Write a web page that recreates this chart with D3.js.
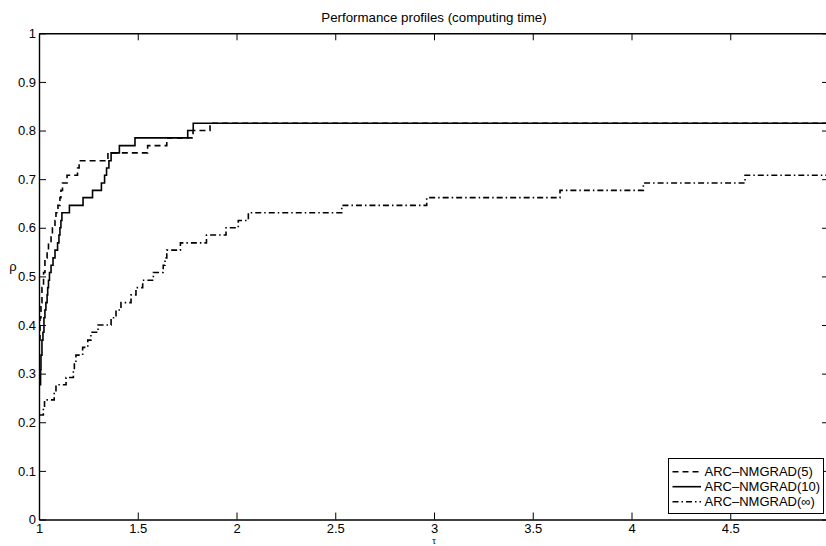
<!DOCTYPE html>
<html>
<head>
<meta charset="utf-8">
<script src="https://cdn.jsdelivr.net/npm/d3@7"></script>
<style>
  html, body { margin: 0; padding: 0; background: #fff; }
  svg { display: block; }
</style>
</head>
<body>
<svg id="chart" width="826" height="546"></svg>
<script>
// ---------- data ----------
const titleText = "Performance profiles (computing time)";
const seriesNames = ["ARC\u2013NMGRAD(5)", "ARC\u2013NMGRAD(10)", "ARC\u2013NMGRAD(\u221e)"];

const tau5 = [1.000, 1.005, 1.010, 1.015, 1.023, 1.030, 1.041, 1.048, 1.061, 1.068, 1.081, 1.086, 1.096, 1.106, 1.111, 1.119, 1.142, 1.195, 1.203, 1.349, 1.550, 1.647, 1.780, 1.866, 5.000];
const rho5 = [0.369, 0.415, 0.446, 0.477, 0.508, 0.538, 0.554, 0.569, 0.585, 0.600, 0.615, 0.631, 0.646, 0.662, 0.677, 0.692, 0.708, 0.723, 0.738, 0.754, 0.769, 0.785, 0.800, 0.815, 0.815];

const tau10 = [1.000, 1.008, 1.010, 1.015, 1.020, 1.025, 1.030, 1.035, 1.041, 1.044, 1.048, 1.053, 1.061, 1.071, 1.081, 1.094, 1.101, 1.106, 1.111, 1.116, 1.154, 1.223, 1.271, 1.316, 1.332, 1.342, 1.354, 1.365, 1.407, 1.486, 1.753, 1.781, 5.000];
const rho10 = [0.277, 0.308, 0.338, 0.369, 0.385, 0.415, 0.431, 0.446, 0.462, 0.477, 0.492, 0.508, 0.523, 0.538, 0.554, 0.569, 0.585, 0.600, 0.615, 0.631, 0.646, 0.662, 0.677, 0.692, 0.708, 0.723, 0.738, 0.754, 0.769, 0.785, 0.800, 0.815, 0.815];

const tauInf = [1.000, 1.022, 1.028, 1.077, 1.086, 1.137, 1.174, 1.179, 1.187, 1.221, 1.247, 1.263, 1.299, 1.365, 1.390, 1.415, 1.466, 1.491, 1.525, 1.579, 1.629, 1.638, 1.647, 1.716, 1.848, 1.947, 2.009, 2.060, 2.533, 2.963, 3.638, 4.060, 4.575, 5.000];
const rhoInf = [0.215, 0.231, 0.246, 0.262, 0.277, 0.292, 0.308, 0.323, 0.338, 0.354, 0.369, 0.385, 0.400, 0.415, 0.431, 0.446, 0.462, 0.477, 0.492, 0.508, 0.523, 0.538, 0.554, 0.569, 0.585, 0.600, 0.615, 0.631, 0.646, 0.662, 0.677, 0.692, 0.708, 0.708];

const xTicks = [1, 1.5, 2, 2.5, 3, 3.5, 4, 4.5, 5];
const xTickLabels = ["1", "1.5", "2", "2.5", "3", "3.5", "4", "4.5", ""];
const yTicks = [0, 0.1, 0.2, 0.3, 0.4, 0.5, 0.6, 0.7, 0.8, 0.9, 1];
const yTickLabels = ["0", "0.1", "0.2", "0.3", "0.4", "0.5", "0.6", "0.7", "0.8", "0.9", "1"];

// ---------- layout ----------
const FONT = "'Liberation Sans', Arial, Helvetica, sans-serif";
const pLeft = 39, pRight = 829, pTop = 33.3, pBottom = 519.5;

const svg = d3.select("#chart");
const x = d3.scaleLinear().domain([1, 5]).range([pLeft, pRight]);
const y = d3.scaleLinear().domain([0, 1]).range([pBottom, pTop]);

const styles = [
  { dash: "6,4" },
  { dash: null },
  { dash: "6,3,1.5,3" }
];
const series = [
  { tau: tau5, rho: rho5 },
  { tau: tau10, rho: rho10 },
  { tau: tauInf, rho: rhoInf }
];

// clip
svg.append("defs").append("clipPath").attr("id", "plotclip")
  .append("rect").attr("x", pLeft).attr("y", pTop - 2)
  .attr("width", pRight - pLeft).attr("height", pBottom - pTop + 2);

// title
svg.append("text")
  .attr("x", (pLeft + pRight) / 2).attr("y", 22)
  .attr("text-anchor", "middle")
  .attr("font-family", FONT).attr("font-size", 13.3)
  .attr("fill", "#000")
  .text(titleText);

// axes
function styleAxis(g) {
  g.attr("font-family", FONT).attr("font-size", 13);
  g.select(".domain").attr("stroke", "#000").attr("stroke-width", 1.4);
  g.selectAll(".tick line").attr("stroke", "#000").attr("stroke-width", 1);
  g.selectAll(".tick text").attr("fill", "#000");
}

svg.append("g").attr("transform", `translate(0,${pBottom})`)
  .call(d3.axisBottom(x).tickValues(xTicks).tickSizeInner(-7).tickSizeOuter(0).tickPadding(4)
    .tickFormat((d, i) => xTickLabels[i]))
  .call(styleAxis);

svg.append("g").attr("transform", `translate(0,${pTop})`)
  .call(d3.axisTop(x).tickValues(xTicks).tickSizeInner(-7).tickSizeOuter(0).tickFormat(""))
  .call(styleAxis);

svg.append("g").attr("transform", `translate(${pLeft},0)`)
  .call(d3.axisLeft(y).tickValues(yTicks).tickSizeInner(-7).tickSizeOuter(0).tickPadding(3)
    .tickFormat((d, i) => yTickLabels[i]))
  .call(styleAxis);

svg.append("g").attr("transform", `translate(${pRight},0)`)
  .call(d3.axisRight(y).tickValues(yTicks).tickSizeInner(-7).tickSizeOuter(0).tickFormat(""))
  .call(styleAxis);

// axis labels
svg.append("text").attr("x", 13).attr("y", 271)
  .attr("text-anchor", "middle").attr("font-family", FONT).attr("font-size", 13)
  .text("\u03c1");
svg.append("text").attr("x", (pLeft + pRight) / 2).attr("y", 544)
  .attr("text-anchor", "middle").attr("font-family", FONT).attr("font-size", 9)
  .text("\u03c4");

// curves
const line = d3.line()
  .x(d => x(d[0])).y(d => y(d[1]))
  .curve(d3.curveStepAfter);

const plot = svg.append("g").attr("clip-path", "url(#plotclip)");
series.forEach((s, i) => {
  const pts = s.tau.map((t, j) => [t, s.rho[j]]);
  plot.append("path")
    .datum(pts)
    .attr("d", line)
    .attr("fill", "none")
    .attr("stroke", "#000")
    .attr("stroke-width", 1.6)
    .attr("stroke-dasharray", styles[i].dash);
});

// legend
const lgX = 668.5, lgY = 458.5, lgW = 155, lgH = 55;
const lg = svg.append("g");
lg.append("rect").attr("x", lgX).attr("y", lgY).attr("width", lgW).attr("height", lgH)
  .attr("fill", "#fff").attr("stroke", "#000").attr("stroke-width", 1);
const rowY = [471.7, 486.7, 501.7];
seriesNames.forEach((name, i) => {
  lg.append("line")
    .attr("x1", 672.5).attr("x2", 701).attr("y1", rowY[i]).attr("y2", rowY[i])
    .attr("stroke", "#000").attr("stroke-width", 1.6)
    .attr("stroke-dasharray", styles[i].dash);
  lg.append("text")
    .attr("x", 704.5).attr("y", rowY[i]).attr("dy", "0.35em")
    .attr("font-family", FONT).attr("font-size", 13).attr("fill", "#000")
    .text(name);
});
</script>
</body>
</html>
